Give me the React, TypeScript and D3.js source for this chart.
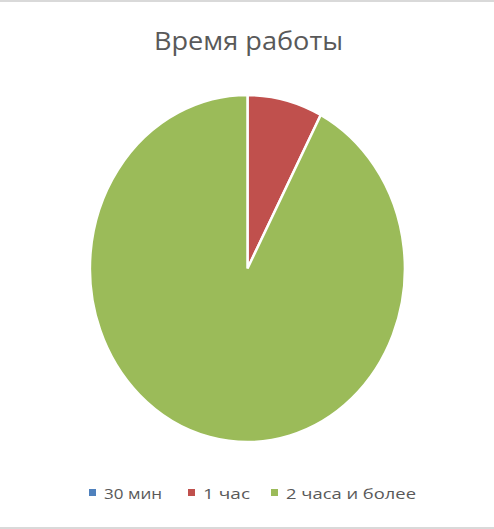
import React from "react";
import * as d3 from "d3";

const categories = ["30 мин", "1 час", "2 часа и более"];
const values = [0, 1, 12];
const colors = ["#4F81BD", "#C0504D", "#9BBB59"];
const title = "Время работы";

export default function App() {
  const W = 494, H = 529;
  const cx = 247.5, cy = 268.5, rx = 157.5, ry = 173.5;
  const pie = d3.pie<number>().sort(null).value((d) => d);
  const arcs = pie(values);
  const arc = d3.arc<d3.PieArcDatum<number>>().innerRadius(0).outerRadius(1);
  const legendX = [89, 188, 271];
  const legendLen = [58, 47, 130];
  return (
    <svg width={W} height={H} style={{ position: "absolute", left: 0, top: 0 }} fontFamily="'Open Sans', sans-serif">
      <rect x={0} y={0} width={W} height={H} fill="#fff" />
      <line x1={0} x2={W} y1={1} y2={1} stroke="#D9D9D9" strokeWidth={2} />
      <line x1={0} x2={W} y1={528} y2={528} stroke="#D9D9D9" strokeWidth={2} />
      <text x={154} y={50} fontSize={25.5} fill="#595959" textLength={189} lengthAdjust="spacingAndGlyphs">{title}</text>
      <g transform={`translate(${cx},${cy}) scale(${rx},${ry})`}>
        {arcs.map((a, i) =>
          a.value > 0 ? (
            <path key={i} d={arc(a) || ""} fill={colors[i]} stroke="#fff" strokeWidth={2.5} vectorEffect="non-scaling-stroke" />
          ) : null
        )}
      </g>
      {categories.map((c, i) => (
        <g key={c}>
          <rect x={legendX[i]} y={489} width={7} height={7} fill={colors[i]} />
          <text x={legendX[i] + 15} y={499} fontSize={15} fill="#595959" textLength={legendLen[i]} lengthAdjust="spacingAndGlyphs">{c}</text>
        </g>
      ))}
    </svg>
  );
}
